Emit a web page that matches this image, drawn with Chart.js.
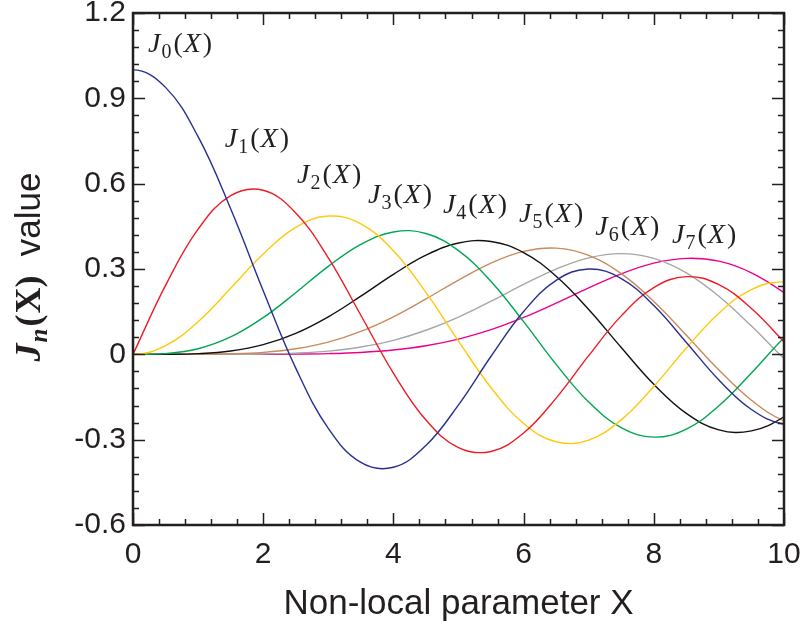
<!DOCTYPE html>
<html>
<head>
<meta charset="utf-8">
<script src="https://cdn.jsdelivr.net/npm/chart.js@4"></script>
<style>
  body { margin: 0; background: #fff; }
  canvas { display: block; }
</style>
</head>
<body>
<canvas id="myChart" width="805" height="635"></canvas>
<script>
// sample points along X, step 0.5 (one extra point past each end so the curves leave the frame smoothly)
const xs = [-0.5, 0, 0.5, 1, 1.5, 2, 2.5, 3, 3.5, 4, 4.5, 5, 5.5, 6, 6.5, 7, 7.5, 8, 8.5, 9, 9.5, 10, 10.5];

const j0 = [0.9385, 1, 0.9385, 0.7652, 0.5118, 0.2239, -0.0484, -0.2601, -0.3801, -0.3971, -0.3205, -0.1776, -0.0068, 0.1506, 0.2601, 0.3001, 0.2663, 0.1717, 0.0419, -0.0903, -0.1939, -0.2459, -0.2366];
const j1 = [-0.2423, 0, 0.2423, 0.4401, 0.5579, 0.5767, 0.4971, 0.3391, 0.1374, -0.0660, -0.2311, -0.3276, -0.3414, -0.2767, -0.1538, -0.0047, 0.1352, 0.2346, 0.2731, 0.2453, 0.1613, 0.0435, -0.0787];
const j2 = [0.0306, 0, 0.0306, 0.1149, 0.2321, 0.3528, 0.4461, 0.4861, 0.4586, 0.3641, 0.2178, 0.0466, -0.1173, -0.2429, -0.3074, -0.3014, -0.2303, -0.1130, 0.0223, 0.1448, 0.2279, 0.2546, 0.2216];
const j3 = [-0.0026, 0, 0.0026, 0.0196, 0.0610, 0.1289, 0.2167, 0.3091, 0.3868, 0.4302, 0.4247, 0.3648, 0.2561, 0.1148, -0.0354, -0.1676, -0.2580, -0.2911, -0.2626, -0.1809, -0.0653, 0.0584, 0.1631];
const j4 = [0.0002, 0, 0.0002, 0.0025, 0.0118, 0.0340, 0.0738, 0.1320, 0.2045, 0.2811, 0.3485, 0.3912, 0.3967, 0.3576, 0.2747, 0.1578, 0.0239, -0.1054, -0.2077, -0.2655, -0.2691, -0.2196, -0.1284];
const j5 = [0, 0, 0, 0.0002, 0.0018, 0.0070, 0.0195, 0.0430, 0.0806, 0.1321, 0.1949, 0.2611, 0.3209, 0.3621, 0.3735, 0.3479, 0.2835, 0.1858, 0.0671, -0.0551, -0.1613, -0.2341, -0.2609];
const j6 = [0, 0, 0, 0, 0.0002, 0.0012, 0.0042, 0.0114, 0.0257, 0.0491, 0.0846, 0.1310, 0.1868, 0.2459, 0.2999, 0.3392, 0.3541, 0.3376, 0.2866, 0.2043, 0.0993, -0.0145, -0.1201];
const j7 = [0, 0, 0, 0, 0, 0.0002, 0.0008, 0.0025, 0.0067, 0.0152, 0.0300, 0.0534, 0.0866, 0.1296, 0.1802, 0.2336, 0.2831, 0.3206, 0.3375, 0.3275, 0.2867, 0.2167, 0.1236];

const series = [j0, j1, j2, j3, j4, j5, j6, j7];
const colors = ["#27308f", "#ed1c24", "#ffc90e", "#00a651", "#111111", "#c98a5c", "#a6a6a6", "#ec008c"];

// where the J_n(X) names sit (left edge, baseline), in data units
const labelX = [0.23, 1.41, 2.52, 3.61, 4.76, 5.93, 7.10, 8.28];
const labelY = [1.063, 0.729, 0.602, 0.532, 0.497, 0.465, 0.419, 0.391];

const ink = "#231f20";

const frame = {
    id: "frame",
    afterDraw(chart) {
        const c = chart.ctx;
        const a = chart.chartArea;
        const sx = chart.scales.x, sy = chart.scales.y;
        c.save();
        c.strokeStyle = ink;
        c.lineWidth = 1.5;
        c.beginPath();
        for (let i = 0; i <= 25; i++) {
            const v = i * 0.4;
            const px = Math.round(sx.getPixelForValue(v)) + 0.5;
            const len = i % 5 == 0 ? 12 : 6;
            c.moveTo(px, a.bottom); c.lineTo(px, a.bottom - len);
            c.moveTo(px, a.top); c.lineTo(px, a.top + len);
        }
        for (let i = 0; i <= 30; i++) {
            const v = -0.6 + i * 0.06;
            const py = Math.round(sy.getPixelForValue(v)) + 0.5;
            const len = i % 5 == 0 ? 12 : 6;
            c.moveTo(a.left, py); c.lineTo(a.left + len, py);
            c.moveTo(a.right, py); c.lineTo(a.right - len, py);
        }
        c.stroke();
        c.lineWidth = 2.5;
        c.strokeRect(a.left, a.top, a.right - a.left, a.bottom - a.top);

        // curve names
        c.fillStyle = ink;
        c.textBaseline = "alphabetic";
        c.textAlign = "left";
        for (let n = 0; n < 8; n++) {
            let x = sx.getPixelForValue(labelX[n]);
            const y = sy.getPixelForValue(labelY[n]);
            c.font = 'italic 28px "Liberation Serif"';
            c.fillText("J", x, y);
            x += c.measureText("J").width + 1;
            c.font = '20px "Liberation Serif"';
            c.fillText(String(n), x, y + 6);
            x += c.measureText(String(n)).width + 2;
            c.font = '28px "Liberation Serif"';
            c.fillText("(", x, y);
            x += c.measureText("(").width + 1;
            c.font = 'italic 28px "Liberation Serif"';
            c.fillText("X", x, y);
            x += c.measureText("X").width + 2;
            c.font = '28px "Liberation Serif"';
            c.fillText(")", x, y);
        }

        // y title
        const parts = [
            ["J", 'bold italic 36px "Liberation Serif"', 0, 1],
            ["n", 'bold italic 25px "Liberation Serif"', 7, 2],
            ["(", 'bold 36px "Liberation Serif"', 0, 1],
            ["X", 'bold 36px "Liberation Serif"', 0, 0],
            [")", 'bold 36px "Liberation Serif"', 0, 0],
            ["  value", '35px "Liberation Sans"', 0, 0]
        ];
        let total = 0;
        parts.forEach(p => { c.font = p[1]; total += c.measureText(p[0]).width + p[3]; });
        c.translate(40, 267);
        c.rotate(-Math.PI / 2);
        let tx = -total / 2;
        parts.forEach(p => {
            c.font = p[1];
            c.fillText(p[0], tx, p[2]);
            tx += c.measureText(p[0]).width + p[3];
        });
        c.restore();
    }
};

const ctx = document.getElementById('myChart');

const chart = new Chart(ctx, {
    type: "line",
    data: {
        datasets: series.map((s, n) => ({
            label: "J" + n + "(X)",
            data: xs.map((x, i) => ({ x: x, y: s[i] })),
            borderColor: colors[n],
            borderWidth: 1.4,
            pointRadius: 0,
            tension: 0.4,
            fill: false,
        })),
    },
    options: {
        responsive: false,
        animation: false,
        layout: { padding: { left: 0, top: 13, right: 21, bottom: 0 } },
        plugins: { legend: { display: false }, tooltip: { enabled: false } },
        scales: {
            x: {
                type: "linear",
                min: 0,
                max: 10,
                afterFit: s => { s.height = 110; s.paddingLeft = 0; s.paddingRight = 0; },
                grid: { display: false, drawTicks: false },
                border: { display: false },
                ticks: {
                    stepSize: 2,
                    padding: 12,
                    color: ink,
                    font: { family: "Liberation Sans", size: 30 },
                    maxRotation: 0,
                },
                title: {
                    display: true,
                    text: "Non-local parameter X",
                    color: ink,
                    font: { family: "Liberation Sans", size: 35 },
                    padding: { top: 0, bottom: 10 },
                },
            },
            y: {
                min: -0.6,
                max: 1.2,
                afterFit: s => { s.width = 133; s.paddingTop = 0; s.paddingBottom = 0; },
                grid: { display: false, drawTicks: false },
                border: { display: false },
                ticks: {
                    stepSize: 0.3,
                    padding: 7,
                    color: ink,
                    font: { family: "Liberation Sans", size: 30 },
                    callback: v => Math.abs(v) < 1e-9 ? "0" : v.toFixed(1),
                },
            },
        },
    },
    plugins: [frame],
});
</script>
</body>
</html>
